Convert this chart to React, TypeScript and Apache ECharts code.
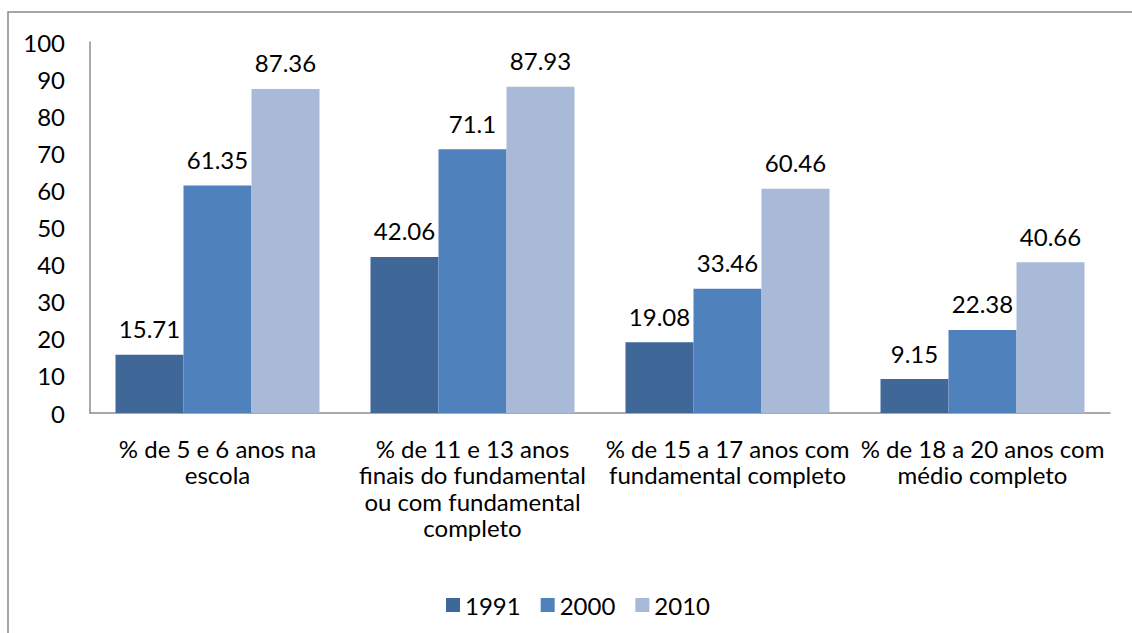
import React, { useEffect, useRef } from "react";
import * as echarts from "echarts";

const categories = [
  "% de 5 e 6 anos na\nescola",
  "% de 11 e 13 anos\nfinais do fundamental\nou com fundamental\ncompleto",
  "% de 15 a 17 anos com\nfundamental completo",
  "% de 18 a 20 anos com\nmédio completo",
];
const seriesNames = ["1991", "2000", "2010"];
const values1991 = [15.71, 42.06, 19.08, 9.15];
const values2000 = [61.35, 71.1, 33.46, 22.38];
const values2010 = [87.36, 87.93, 60.46, 40.66];
const colors = ["#3F6797", "#4F81BD", "#A9B9D8"];

const FONT = "Lato";

export default function App() {
  const ref = useRef<HTMLDivElement>(null);
  useEffect(() => {
    if (!ref.current) return;
    const chart = echarts.init(ref.current, null, { renderer: "svg" });
    const data = [values1991, values2000, values2010];
    chart.setOption({
      animation: false,
      backgroundColor: "#ffffff",
      textStyle: { fontFamily: FONT },
      graphic: [
        {
          type: "rect",
          shape: { x: 8, y: 12, width: 1300, height: 800 },
          style: { fill: "none", stroke: "#898989", lineWidth: 1.5 },
          silent: true,
        },
      ],
      grid: { left: 90, right: 22, top: 42, bottom: 220, containLabel: false },
      legend: {
        data: seriesNames,
        top: 588,
        left: 441,
        icon: "rect",
        itemWidth: 14,
        itemHeight: 14,
        itemGap: 20,
        textStyle: { fontFamily: FONT, fontSize: 24, color: "#000" },
      },
      xAxis: {
        type: "category",
        data: categories,
        axisLine: { show: true, lineStyle: { color: "#8c8c8c", width: 1.5 } },
        axisTick: { show: false },
        axisLabel: {
          interval: 0,
          fontFamily: FONT,
          fontSize: 24,
          color: "#000",
          lineHeight: 26.5,
          margin: 22,
        },
      },
      yAxis: {
        type: "value",
        min: 0,
        max: 100,
        interval: 10,
        splitLine: { show: false },
        axisLine: { show: true, lineStyle: { color: "#8c8c8c", width: 1.5 } },
        axisTick: { show: false },
        axisLabel: { fontFamily: FONT, fontSize: 24, color: "#000", margin: 25 },
      },
      series: seriesNames.map((name, i) => ({
        name,
        type: "bar",
        data: data[i],
        barGap: "0%",
        barCategoryGap: "20%",
        itemStyle: { color: colors[i] },
        label: {
          show: true,
          position: "top",
          distance: 14,
          fontFamily: FONT,
          fontSize: 24,
          color: "#000",
        },
      })),
    });
    return () => chart.dispose();
  }, []);
  return (
    <div
      ref={ref}
      style={{ position: "fixed", left: 0, top: 0, width: 1132, height: 633 }}
    />
  );
}
